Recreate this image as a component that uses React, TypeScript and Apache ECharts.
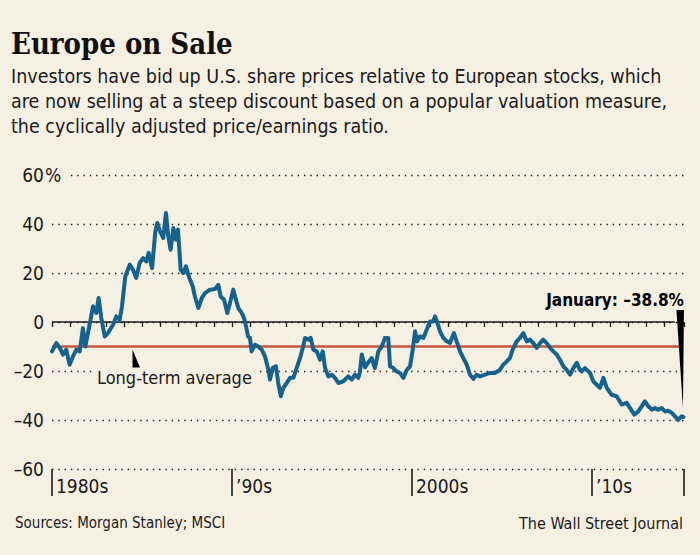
import React, { useEffect, useRef } from "react";
import * as echarts from "echarts";

// Decimal years (monthly-ish readings) and the U.S.-vs-Europe CAPE premium/discount, %
const years = [
  1980.0, 1980.24, 1980.43, 1980.61, 1980.79, 1980.98, 1981.17, 1981.35, 1981.54, 1981.72, 1981.85,
  1982.09, 1982.28, 1982.46, 1982.59, 1982.74, 1982.93, 1983.11, 1983.39, 1983.57, 1983.76, 1983.89,
  1984.07, 1984.32, 1984.5, 1984.68, 1984.87, 1985.06, 1985.24, 1985.37, 1985.56, 1985.74, 1985.85,
  1986.0, 1986.18, 1986.33, 1986.46, 1986.59, 1986.74, 1986.89, 1987.0, 1987.15, 1987.29, 1987.44,
  1987.63, 1987.82, 1987.94, 1988.13, 1988.32, 1988.5, 1988.78, 1989.06, 1989.24, 1989.37, 1989.56,
  1989.74, 1989.89, 1990.07, 1990.22, 1990.35, 1990.54, 1990.67, 1990.78, 1990.89, 1991.0, 1991.09,
  1991.28, 1991.46, 1991.65, 1991.83, 1992.02, 1992.11, 1992.26, 1992.44, 1992.57, 1992.71, 1992.85,
  1993.04, 1993.22, 1993.41, 1993.59, 1993.78, 1993.93, 1994.06, 1994.24, 1994.37, 1994.52, 1994.71,
  1994.89, 1995.04, 1995.17, 1995.35, 1995.54, 1995.72, 1995.91, 1996.18, 1996.46, 1996.65, 1996.83,
  1997.02, 1997.11, 1997.21, 1997.39, 1997.57, 1997.76, 1997.94, 1998.13, 1998.32, 1998.5, 1998.68,
  1998.78, 1998.96, 1999.15, 1999.33, 1999.52, 1999.71, 1999.89, 2000.04, 2000.17, 2000.29, 2000.44,
  2000.63, 2000.82, 2001.0, 2001.18, 2001.28, 2001.41, 2001.56, 2001.74, 2001.93, 2002.11, 2002.33,
  2002.48, 2002.67, 2002.85, 2003.04, 2003.22, 2003.41, 2003.59, 2003.78, 2004.06, 2004.33, 2004.61,
  2004.89, 2005.07, 2005.26, 2005.44, 2005.59, 2005.82, 2006.0, 2006.18, 2006.37, 2006.56, 2006.74,
  2006.93, 2007.11, 2007.29, 2007.48, 2007.67, 2007.85, 2008.04, 2008.22, 2008.41, 2008.59, 2008.78,
  2008.96, 2009.15, 2009.33, 2009.43, 2009.61, 2009.89, 2010.07, 2010.26, 2010.44, 2010.63, 2010.82,
  2011.09, 2011.37, 2011.65, 2011.93, 2012.11, 2012.35, 2012.57, 2012.76, 2012.94, 2013.13, 2013.32,
  2013.5, 2013.68, 2013.87, 2014.06, 2014.24, 2014.43, 2014.61, 2014.79, 2014.98, 2015.08,
];

const values = [
  -12, -8.6, -10.6, -13.3, -11.3, -17.4, -14, -11.3, -12, -2.5, -10,
  -1.1, 6.4, 3.7, 9.8, 1.6, -5.9, -4.5, -1.1, 2.3, 0.9, 6.4,
  18.6, 23.4, 21.3, 18, 24.1, 26.1, 24.7, 28.2, 22, 37, 40.4,
  37, 34.3, 44.5, 34.9, 29.5, 38.4, 33.6, 37.7, 21.3, 20, 22.7,
  18, 14.5, 10.4, 5.7, 9.8, 11.8, 13.2, 13.5, 15.2, 10.4, 9.1,
  3.7, 7.8, 13.2, 9.1, 5.7, 3.7, 1.6, -1.8, -5.9, -6.5, -12,
  -9.3, -10, -11.3, -14, -19.5, -23.5, -18.8, -18.1, -24.9, -30.3, -26.9,
  -24.9, -22.8, -22.8, -18.8, -14.7, -10.6, -6.5, -7.2, -6.5, -11.3, -12,
  -15.4, -12, -18.8, -22.2, -21.5, -22.8, -24.9, -24.2, -22.2, -23.5, -21.5,
  -22.8, -20.2, -13.3, -18.5, -16.5, -14.7, -18.8, -12, -10, -6.5, -6.5,
  -18.1, -18.8, -20.2, -20.8, -22.8, -19.5, -18.1, -11.3, -3.8, -7.9, -5.9,
  -6.5, -3.1, 0.2, 0.2, 2.3, -0.4, -3.8, -6.5, -7.9, -8.6, -4.5,
  -7.9, -12, -14.7, -17.4, -21.5, -23.2, -21.5, -22.2, -21.5, -20.8, -20.8,
  -19.5, -17.4, -16.1, -14.7, -11.3, -7.9, -6.5, -4.5, -7.9, -7.2, -8.6,
  -10.6, -8.6, -7.2, -8.6, -10.6, -12, -13.3, -15.4, -18.1, -19.5, -21.5,
  -18.8, -16.7, -19.5, -20.2, -18.8, -20.8, -24.2, -25.6, -26.9, -22.8, -26.9,
  -29.7, -30.3, -33.7, -33, -35.1, -37.8, -36.5, -34.4, -32.4, -34.4, -35.8,
  -35.1, -35.8, -35.1, -36.5, -36.2, -37.1, -38.5, -39.9, -38.5, -38.8,
];

const longTermAverage = -10;
const zeroLevel = 0;
const yTicks = { min: -60, max: 60, step: 20 };
const xRange = { min: 1980, max: 2015.1 };
const decadeLabels: Record<number, string> = {
  1980: "1980s",
  1990: "\u201990s",
  2000: "2000s",
  2010: "\u201910s",
};

const BG = "#f6f0e3";
const BLUE = "#15628f";
const RED = "#c8563f";
const INK = "#1a1a1a";
const NARROW = "'DejaVu Sans Condensed', 'Liberation Sans Narrow', 'Roboto', sans-serif";

export default function App() {
  const ref = useRef<HTMLDivElement | null>(null);

  useEffect(() => {
    document.body.style.margin = "0";
    document.body.style.background = BG;
    if (!ref.current) return;
    const chart = echarts.init(ref.current, undefined, { renderer: "svg" });

    const lineData = years.map((y, i) => [y, values[i]]);
    const lastYear = years[years.length - 1];
    const lastValue = values[values.length - 1];

    const option: any = {
      animation: false,
      backgroundColor: BG,
      title: {
        left: 11,
        top: 29,
        padding: 0,
        text: "Europe on Sale",
        textStyle: {
          fontFamily: "'DejaVu Serif Condensed', 'DejaVu Serif', serif",
          fontWeight: "bold",
          fontSize: 29,
          color: "#111",
        },
        subtext:
          "Investors have bid up U.S. share prices relative to European stocks, which\nare now selling at a steep discount based on a popular valuation measure,\nthe cyclically adjusted price/earnings ratio.",
        subtextStyle: {
          fontFamily: NARROW,
          fontSize: 19.5,
          lineHeight: 25,
          color: INK,
        },
        itemGap: 6,
      },
      grid: { left: 52, right: 16.2, top: 175, bottom: 86 },
      xAxis: [
        {
          type: "value",
          min: xRange.min,
          max: xRange.max,
          interval: 1,
          position: "bottom",
          axisLine: { show: false },
          axisTick: { show: true, length: 5, lineStyle: { color: INK, width: 1.3 } },
          axisLabel: { show: false },
          splitLine: { show: false },
        },
        {
          type: "value",
          min: xRange.min,
          max: xRange.max,
          interval: 10,
          position: "bottom",
          axisLine: { show: false },
          axisTick: { show: true, length: 27, lineStyle: { color: INK, width: 1.6 } },
          axisLabel: {
            show: true,
            margin: 7,
            align: "left",
            padding: [0, 0, 0, 4],
            fontFamily: NARROW,
            fontSize: 19,
            color: INK,
            formatter: (v: number) => decadeLabels[v] || "",
          },
          splitLine: { show: false },
        },
      ],
      yAxis: {
        type: "value",
        min: yTicks.min,
        max: yTicks.max,
        interval: yTicks.step,
        axisLine: { show: false },
        axisTick: { show: false },
        axisLabel: {
          margin: 8,
          fontFamily: NARROW,
          fontSize: 19,
          color: INK,
          formatter: (v: number) => (v < 0 ? "\u2013" + Math.abs(v) : String(v)),
        },
        splitLine: {
          show: true,
          lineStyle: { color: INK, width: 1.4, type: [1.4, 4.9] },
        },
      },
      series: [
        {
          type: "line",
          name: "average",
          data: [
            [xRange.min, longTermAverage],
            [2014.9, longTermAverage],
          ],
          symbol: "none",
          lineStyle: { color: RED, width: 2.6 },
          z: 1,
          silent: true,
        },
        {
          type: "line",
          name: "zero",
          data: [
            [xRange.min, zeroLevel],
            [2014.6, zeroLevel],
          ],
          symbol: "none",
          lineStyle: { color: INK, width: 1.6 },
          z: 1,
          silent: true,
        },
        {
          type: "line",
          name: "premium",
          data: lineData,
          symbol: "none",
          lineStyle: { color: BLUE, width: 4, join: "round", cap: "round" },
          z: 3,
        },
      ],
    };
    chart.setOption(option);

    const tip = chart.convertToPixel({ xAxisIndex: 0, yAxisIndex: 0 }, [lastYear, lastValue]);
    const top60 = chart.convertToPixel({ xAxisIndex: 0, yAxisIndex: 0 }, [xRange.min, yTicks.max]);
    const avgPt = chart.convertToPixel({ xAxisIndex: 0, yAxisIndex: 0 }, [1984.5, longTermAverage]);

    chart.setOption({
      graphic: [
        {
          type: "text",
          z: 100,
          x: top60[0] - 7,
          y: top60[1],
          style: {
            text: "%",
            fontFamily: NARROW,
            fontSize: 19,
            fill: INK,
            verticalAlign: "middle",
            align: "left",
            backgroundColor: BG,
            padding: [0, 5, 0, 0],
          },
        },
        {
          type: "text",
          z: 100,
          x: tip[0] + 0.5,
          y: tip[1] - 117,
          style: {
            text: "January: \u201338.8%",
            fontFamily: NARROW,
            fontWeight: "bold",
            fontSize: 17,
            fill: "#000",
            align: "right",
            verticalAlign: "middle",
          },
        },
        {
          type: "polygon",
          z: 100,
          shape: {
            points: [
              [tip[0] - 7, tip[1] - 107],
              [tip[0] + 0.5, tip[1] - 107],
              [tip[0] - 0.5, tip[1] - 9],
            ],
          },
          style: { fill: "#000" },
        },
        {
          type: "polygon",
          z: 100,
          shape: {
            points: [
              [avgPt[0] - 0.5, avgPt[1] + 3],
              [avgPt[0] - 0.5, avgPt[1] + 21],
              [avgPt[0] + 7, avgPt[1] + 21],
            ],
          },
          style: { fill: "#000" },
        },
        {
          type: "text",
          z: 100,
          x: 94,
          y: avgPt[1] + 31,
          style: {
            text: "Long-term average",
            fontFamily: NARROW,
            fontSize: 18,
            fill: INK,
            align: "left",
            verticalAlign: "middle",
            backgroundColor: BG,
            padding: [0, 3, 0, 3],
          },
        },
        {
          type: "text",
          z: 100,
          x: 15,
          y: 523,
          style: {
            text: "Sources: Morgan Stanley; MSCI",
            fontFamily: NARROW,
            fontSize: 15,
            fill: INK,
            align: "left",
            verticalAlign: "middle",
          },
        },
        {
          type: "text",
          z: 100,
          x: 683,
          y: 523,
          style: {
            text: "The Wall Street Journal",
            fontFamily: NARROW,
            fontSize: 16,
            fill: INK,
            align: "right",
            verticalAlign: "middle",
          },
        },
      ],
    });

    return () => chart.dispose();
  }, []);

  return (
    <div
      ref={ref}
      style={{ position: "absolute", left: 0, top: 0, width: 700, height: 555, background: BG }}
    />
  );
}
